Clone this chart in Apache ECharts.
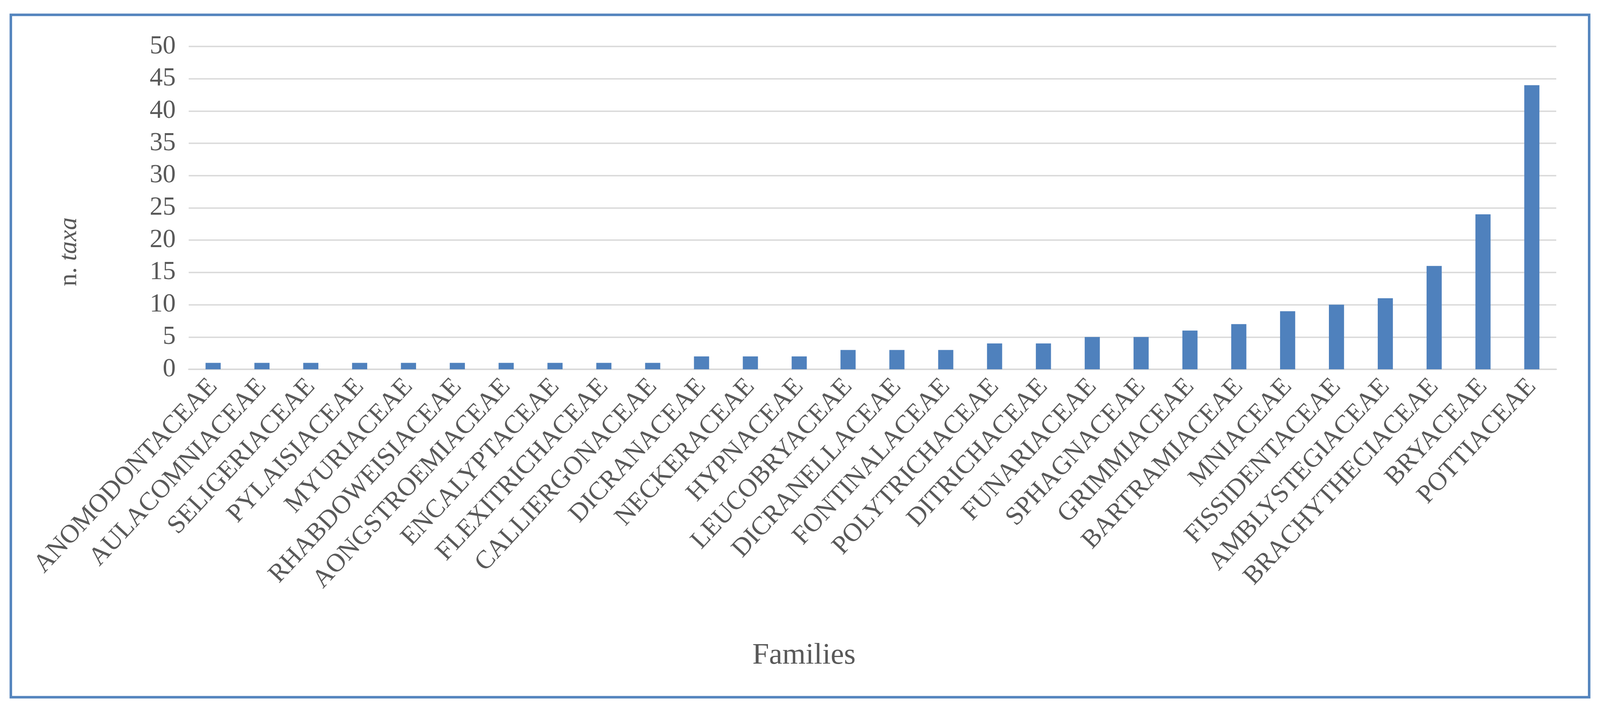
<!DOCTYPE html>
<html>
<head>
<meta charset="utf-8">
<script src="https://cdn.jsdelivr.net/npm/echarts@6/dist/echarts.min.js"></script>
<style>
html,body{margin:0;padding:0;background:#fff;overflow:hidden;}
#chart{width:100vw;height:100vh;}
</style>
</head>
<body>
<div id="chart"></div>
<script>
const categories = ['ANOMODONTACEAE','AULACOMNIACEAE','SELIGERIACEAE','PYLAISIACEAE','MYURIACEAE','RHABDOWEISIACEAE','AONGSTROEMIACEAE','ENCALYPTACEAE','FLEXITRICHACEAE','CALLIERGONACEAE','DICRANACEAE','NECKERACEAE','HYPNACEAE','LEUCOBRYACEAE','DICRANELLACEAE','FONTINALACEAE','POLYTRICHACEAE','DITRICHACEAE','FUNARIACEAE','SPHAGNACEAE','GRIMMIACEAE','BARTRAMIACEAE','MNIACEAE','FISSIDENTACEAE','AMBLYSTEGIACEAE','BRACHYTHECIACEAE','BRYACEAE','POTTIACEAE'];
const taxaCounts = [1,1,1,1,1,1,1,1,1,1,2,2,2,3,3,3,4,4,5,5,6,7,9,10,11,16,24,44];
const yTicks = {min:0, max:50, interval:5};
const xAxisTitle = 'Families';
const yAxisTitlePlain = 'n. ';
const yAxisTitleItalic = 'taxa';

const el = document.getElementById('chart');
const W = el.clientWidth || window.innerWidth, H = el.clientHeight || window.innerHeight;
const sx = W / 4426, sy = H / 1829, s = Math.min(sx, sy);
const font = '"Liberation Serif", "DejaVu Serif", serif';
const textColor = '#595959';
const chart = echarts.init(el, null, {renderer:'canvas'});
chart.setOption({
  animation:false,
  backgroundColor:'#ffffff',
  grid:{left:522*sx, right:121*sx, top:119*sy, bottom:883*sy, containLabel:false},
  xAxis:{
    type:'category',
    data:categories,
    axisLine:{show:true, lineStyle:{color:'#d9d9d9', width:4*s}},
    axisTick:{show:false},
    axisLabel:{rotate:47, interval:0, margin:34*sy, fontFamily:font, fontSize:72*s, color:textColor}
  },
  yAxis:{
    type:'value',
    min:yTicks.min, max:yTicks.max, interval:yTicks.interval,
    axisLine:{show:false},
    axisTick:{show:false},
    axisLabel:{margin:36*sx, fontFamily:font, fontSize:72*s, color:textColor},
    splitLine:{lineStyle:{color:'#d9d9d9', width:4*s}}
  },
  series:[{
    type:'bar',
    data:taxaCounts,
    barCategoryGap:'69%',
    itemStyle:{color:'#4f81bd'}
  }],
  graphic:[
    {type:'rect', shape:{x:30*sx, y:38*sy, width:4366*sx, height:1748*sy}, style:{fill:null, stroke:'#5585be', lineWidth:7*s}, z:-1},
    {type:'text', x:2224*sx, y:1680*sy, style:{text:xAxisTitle, font:(83*s)+'px "Liberation Serif", serif', fill:textColor, textAlign:'center', textVerticalAlign:'middle'}},
    {type:'text', x:192*sx, y:645*sy, rotation:Math.PI/2,
     style:{text:'{a|'+yAxisTitlePlain+'}{b|'+yAxisTitleItalic+'}', textAlign:'center', textVerticalAlign:'middle',
       rich:{a:{fontFamily:font, fontSize:70*s, fill:textColor, color:textColor}, b:{fontFamily:font, fontSize:70*s, fontStyle:'italic', fill:textColor, color:textColor}}}}
  ]
});
</script>
</body>
</html>
